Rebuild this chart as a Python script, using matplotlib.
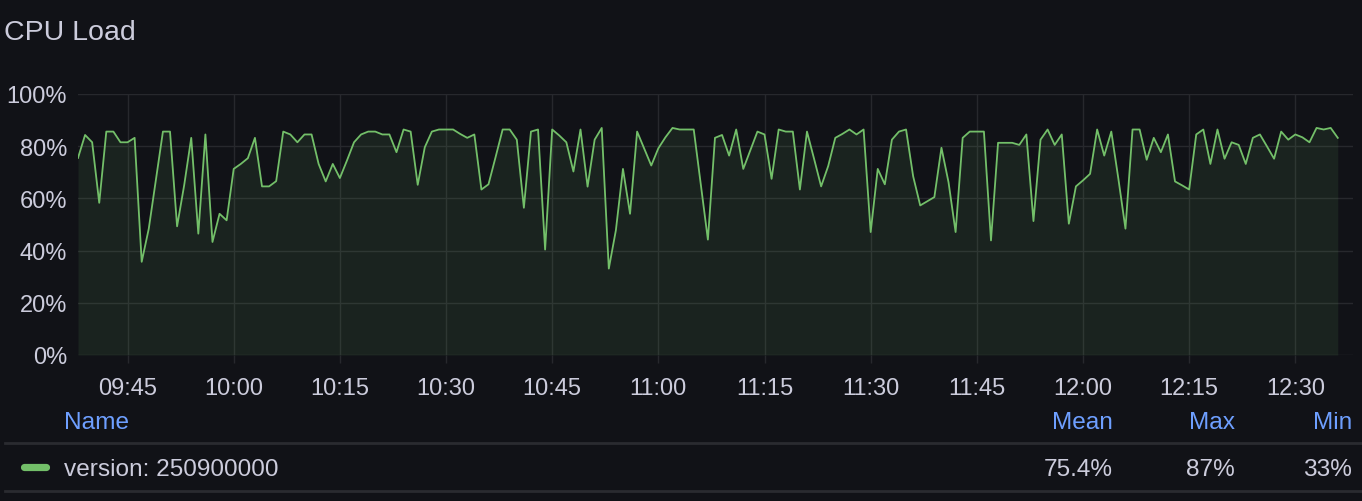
import matplotlib
matplotlib.use("Agg")
import matplotlib.pyplot as plt
import matplotlib.dates as mdates
import pandas as pd
from matplotlib.lines import Line2D

# ---- data ----
start_time = "2024-01-01 09:38"
cpu_load = [
    75.5, 84.3, 81.5, 58.3, 85.6, 85.6, 81.5, 81.5, 83.2, 35.7,
    48.4, 67.0, 85.6, 85.6, 49.3, 65.0, 83.2, 46.5, 84.5, 43.3,
    54.1, 51.6, 71.3, 73.2, 75.4, 83.2, 64.6, 64.6, 66.6, 85.6,
    84.5, 81.5, 84.5, 84.5, 73.2, 66.5, 73.2, 67.8, 74.5, 81.5,
    84.5, 85.6, 85.6, 84.5, 84.5, 77.7, 86.4, 85.6, 65.2, 79.6,
    85.6, 86.4, 86.4, 86.4, 84.7, 83.2, 84.5, 63.4, 65.4, 75.8,
    86.4, 86.4, 82.5, 56.4, 85.6, 86.4, 40.4, 86.4, 84.1, 81.5,
    70.3, 86.4, 64.5, 82.5, 87.0, 33.1, 47.8, 71.3, 54.1, 85.6,
    79.1, 72.6, 79.2, 83.4, 87.0, 86.4, 86.4, 86.4, 65.4, 44.2,
    83.2, 84.3, 76.4, 86.4, 71.3, 78.5, 85.6, 84.5, 67.5, 86.4,
    85.6, 85.6, 63.4, 85.6, 75.2, 64.6, 72.4, 83.2, 84.7, 86.4,
    84.5, 86.4, 47.1, 71.3, 65.4, 82.5, 85.6, 86.4, 68.5, 57.3,
    58.9, 60.5, 79.4, 66.2, 47.1, 83.2, 85.6, 85.6, 85.6, 43.9,
    81.3, 81.3, 81.3, 80.5, 84.5, 51.3, 82.5, 86.4, 80.5, 84.5,
    50.3, 64.6, 66.9, 69.4, 86.4, 76.4, 85.6, 67.5, 48.4, 86.4,
    86.4, 74.8, 83.2, 77.7, 84.5, 66.5, 65.0, 63.4, 84.5, 86.4,
    73.2, 86.4, 75.2, 81.5, 80.5, 73.2, 83.2, 84.5, 79.9, 75.2,
    85.6, 82.5, 84.5, 83.4, 81.5, 87.0, 86.4, 87.0, 83.2,
]
series_name = "version: 250900000"
stat_headers = ["Mean", "Max", "Min"]
stat_values = ["75.4%", "87%", "33%"]
y_ticks = [0, 20, 40, 60, 80, 100]
x_tick_labels = ["09:45", "10:00", "10:15", "10:30", "10:45", "11:00",
                 "11:15", "11:30", "11:45", "12:00", "12:15", "12:30"]

times = pd.date_range(start_time, periods=len(cpu_load), freq="1min")
x_ticks = [pd.Timestamp("2024-01-01 " + t) for t in x_tick_labels]

# ---- style ----
BG = "#111217"
TXT = "#ccccdc"
GRID = "#27282d"
GREEN = "#73BF69"
BLUE = "#6E9FFF"
FONT = ["Liberation Sans", "DejaVu Sans"]
plt.rcParams["font.family"] = FONT

W, H = 1362, 502
fig = plt.figure(figsize=(W / 100, H / 100), dpi=100, facecolor=BG)

def fx(px):
    return px / W

def fy(py):
    return 1 - py / H

left, right, top, bottom = 78, 1353, 95, 356
ax = fig.add_axes([fx(left), fy(bottom), fx(right - left), (bottom - top) / H])
ax.set_facecolor(BG)

ax.fill_between(times, cpu_load, 0, color=GREEN, alpha=0.1, linewidth=0)
ax.plot(times, cpu_load, color=GREEN, linewidth=1.3)

ax.set_ylim(0, 100)
ax.set_xlim(times[0], pd.Timestamp("2024-01-01 12:38:09"))
ax.set_yticks(y_ticks)
ax.set_yticklabels([f"{v}%" for v in y_ticks])
ax.set_xticks(x_ticks)
ax.set_xticklabels(x_tick_labels)

ax.grid(True, color=GRID, linewidth=1.0)
ax.set_axisbelow(True)
for s in ax.spines.values():
    s.set_visible(False)
ax.tick_params(axis="y", length=0, pad=8, labelsize=17, labelcolor=TXT)
ax.tick_params(axis="x", length=6, width=1.0, color=GRID, pad=9.5,
               labelsize=17, labelcolor=TXT)

# title
fig.text(fx(4), fy(33), "CPU Load", fontsize=20.5, color=TXT, va="center", ha="left")

# legend table
LFS = 17.6
fig.text(fx(64), fy(423), "Name", fontsize=LFS, color=BLUE, va="center", ha="left")
stat_right = [1113, 1235, 1352]
for hdr, val, xr in zip(stat_headers, stat_values, stat_right):
    fig.text(fx(xr), fy(423), hdr, fontsize=LFS, color=BLUE, va="center", ha="right")
    fig.text(fx(xr), fy(470), val, fontsize=LFS, color=TXT, va="center", ha="right")
fig.text(fx(64), fy(470), series_name, fontsize=LFS, color=TXT, va="center", ha="left")

for yline in (444, 492):
    fig.add_artist(Line2D([fx(5), 1.0], [fy(yline), fy(yline)], color="#2a2b30",
                          linewidth=2.0, transform=fig.transFigure))
fig.add_artist(Line2D([fx(24), fx(46)], [fy(468), fy(468)], color=GREEN,
                      linewidth=5.2, solid_capstyle="round", transform=fig.transFigure))

fig.savefig("out.png", dpi=100, facecolor=BG)
